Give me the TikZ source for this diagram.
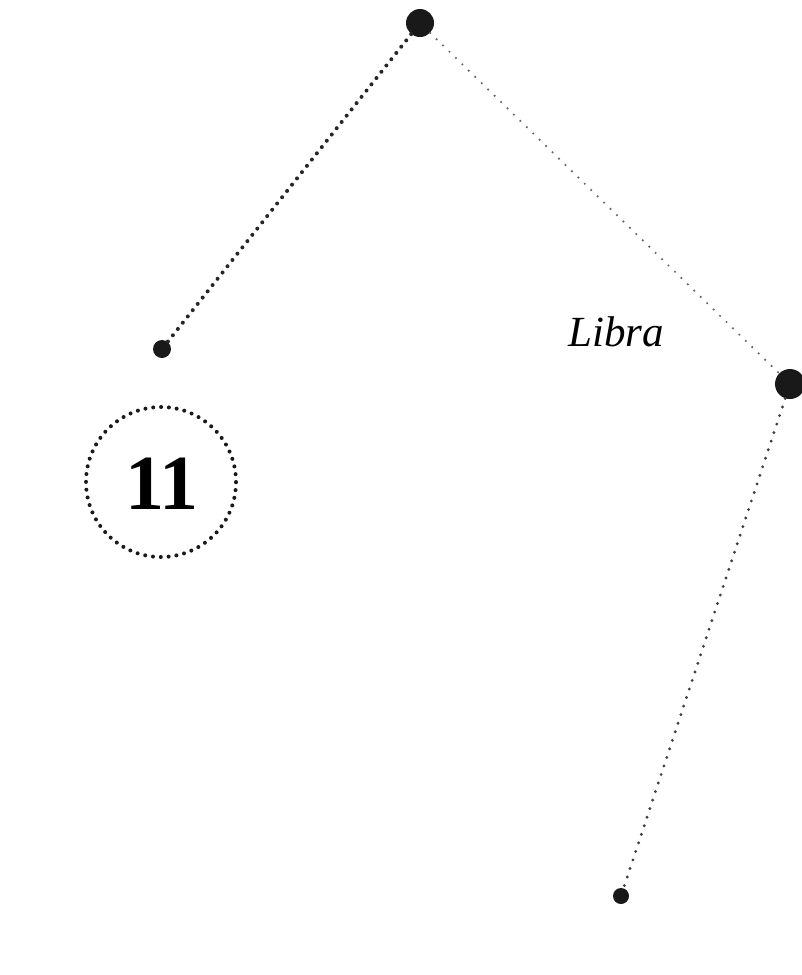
\documentclass[tikz,border=0pt]{standalone}
\usepackage{fontspec}
\setmainfont{Liberation Serif}
\begin{document}
\begin{tikzpicture}[x=1pt,y=-1pt,
  bigdot/.style={circle,fill=black!90,inner sep=0pt,minimum size=#1},
  thickdots/.style={line width=4pt,line cap=round,dash pattern=on 0pt off 8pt,black!85},
  thindots/.style={line width=2.4pt,line cap=round,dash pattern=on 0pt off 9pt,black!60},
  middots/.style={line width=3.2pt,line cap=round,dash pattern=on 0pt off 9pt,black!75},
  ringdots/.style={line width=4pt,line cap=round,dash pattern=on 0pt off 7.85pt,black!90}]
\useasboundingbox (0,0) rectangle (801,975);
\fill[white] (0,0) rectangle (801,975);
\node[bigdot=28pt] (top) at (420,23) {};
\node[bigdot=18pt] (left) at (162,349) {};
\node[bigdot=30pt] (right) at (790,384) {};
\node[bigdot=16pt] (bottom) at (621,896) {};
\draw[thickdots] (top) -- (left);
\draw[thindots] (top) -- (right);
\draw[middots] (right) -- (bottom);
\node[inner sep=0pt,anchor=base west] (libra) at (568,346) {\fontsize{43}{50}\selectfont\itshape Libra};
\node[circle,minimum size=150pt,inner sep=0pt] (ring) at (161,482) {};
\draw[ringdots] (ring.center) circle[radius=75pt];
\node[inner sep=0pt] (num) at (162,483.5) {\fontsize{78}{80}\selectfont\bfseries 11};
\end{tikzpicture}
\end{document}
